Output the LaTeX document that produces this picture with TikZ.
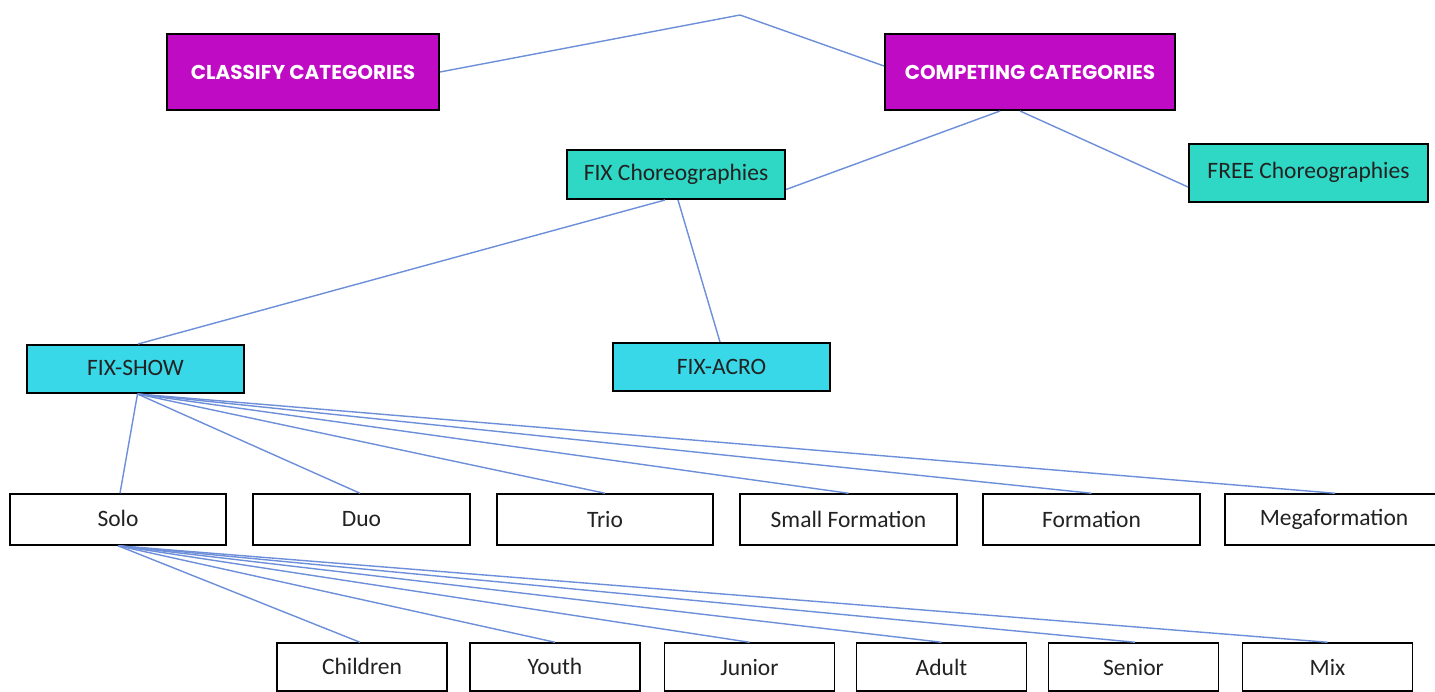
\documentclass[tikz,border=0pt]{standalone}
\usepackage{fontspec}
\setmainfont{Carlito}
\newfontfamily\headfont{Poppins}
\definecolor{purplebox}{HTML}{C00BC4}
\definecolor{tealbox}{HTML}{2ED8C4}
\definecolor{cyanbox}{HTML}{38D8E8}
\definecolor{linkblue}{HTML}{6D8FD9}
\definecolor{textdark}{HTML}{222222}
\tikzset{
  box/.style={draw=black, inner sep=0pt, anchor=center, text=textdark},
  headbox/.style={box, fill=purplebox, line width=2pt, minimum width=#1, minimum height=76pt,
    text=white, font=\headfont\fontsize{20}{22}\selectfont\bfseries},
  choreobox/.style={box, fill=tealbox, line width=2pt, minimum width=#1, font=\fontsize{23.5}{26}\selectfont},
  showbox/.style={box, fill=cyanbox, line width=2pt, minimum width=217pt, minimum height=48pt, font=\fontsize{23.5}{26}\selectfont},
  grpbox/.style={box, fill=white, line width=1.5pt, minimum width=#1, minimum height=51pt, font=\fontsize{23.5}{26}\selectfont},
  agebox/.style={box, fill=white, line width=1.5pt, minimum width=170pt, minimum height=48pt, font=\fontsize{23.5}{26}\selectfont},
  link/.style={draw=linkblue, line width=1.4pt}
}
\begin{document}
\begin{tikzpicture}[x=1pt,y=-1pt]
\useasboundingbox (0,0) rectangle (1435,691);
\fill[white] (0,0) rectangle (1435,691);

% level 1
\node[headbox=272pt] (classify) at (303,72) {CLASSIFY CATEGORIES};
\node[headbox=290pt] (competing) at (1030,72) {COMPETING CATEGORIES};
\coordinate (apex) at (740,15);

% level 2
\node[choreobox=218pt, minimum height=49pt] (fixch) at (676,174.5) {FIX Choreographies};
\node[choreobox=239pt, minimum height=58pt] (freech) at (1308.5,173) {\raisebox{5pt}{FREE Choreographies}};

% level 3
\node[showbox] (fixshow) at (135.5,369) {\raisebox{2pt}{FIX-SHOW}};
\node[showbox] (fixacro) at (721.5,367) {FIX-ACRO};

% level 4
\node[grpbox=216pt] (solo) at (118,519.5) {\raisebox{2pt}{Solo}};
\node[grpbox=217pt] (duo) at (361.5,519.5) {Duo};
\node[grpbox=216pt] (trio) at (605,519.5) {Trio};
\node[grpbox=217pt] (small) at (848.5,519.5) {\raisebox{1pt}{Small Formation}};
\node[grpbox=217pt] (formation) at (1091.5,519.5) {\raisebox{1pt}{Formation}};
\node[grpbox=218pt] (mega) at (1334,519.5) {Megaformation};

% level 5
\node[agebox] (children) at (362,667) {\raisebox{1pt}{Children}};
\node[agebox] (youth) at (555,667) {\raisebox{1pt}{Youth}};
\node[agebox] (junior) at (749.5,667) {Junior};
\node[agebox] (adult) at (941.5,667) {Adult};
\node[agebox] (senior) at (1133.5,667) {Senior};
\node[agebox] (mix) at (1327.5,667) {Mix};

% connectors
\draw[link] (classify.east) -- (apex) -- ([yshift=6pt]competing.west);
\draw[link] ([xshift=-30pt]competing.south) -- ([yshift=-15pt]fixch.east);
\draw[link] ([xshift=-10pt]competing.south) -- ([yshift=-14pt]freech.west);
\draw[link] ([xshift=-11pt]fixch.south) -- ([xshift=2.5pt]fixshow.north);
\draw[link] ([xshift=2pt]fixch.south) -- ([xshift=-1.5pt]fixacro.north);

\foreach \t/\s in {solo/2pt, duo/-1.5pt, trio/0pt, small/0pt, formation/0pt, mega/1pt}
  \draw[link] ([xshift=2pt]fixshow.south) -- ([xshift=\s]\t.north);

\foreach \t/\s in {children/-2pt, youth/0pt, junior/0pt, adult/0pt, senior/1.5pt, mix/0pt}
  \draw[link] (solo.south) -- ([xshift=\s]\t.north);
\end{tikzpicture}
\end{document}
